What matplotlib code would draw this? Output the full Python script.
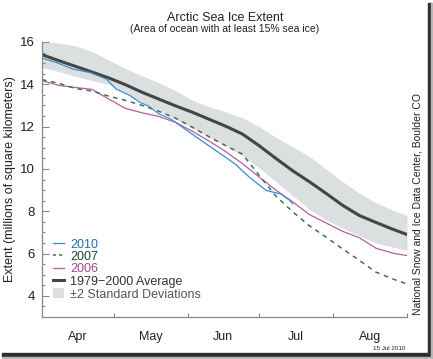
import matplotlib.pyplot as plt
from matplotlib.patches import Rectangle, Patch
from matplotlib.lines import Line2D

plt.rcParams['font.family'] = ['Liberation Sans', 'DejaVu Sans']

# days since 1 April
days = [0, 7, 14, 21, 28, 35, 42, 49, 56, 63, 70, 77, 84, 91, 98, 105, 112, 119, 126, 133, 140, 147, 153]
avg = [15.40, 15.12, 14.85, 14.58, 14.30, 13.98, 13.62, 13.30, 12.98, 12.68, 12.35, 12.02,
       11.65, 11.10, 10.50, 9.92, 9.40, 8.85, 8.28, 7.80, 7.47, 7.15, 6.90]
band_hi = [16.0, 15.95, 15.82, 15.55, 15.15, 14.75, 14.40, 14.08, 13.70, 13.25, 12.95, 12.70,
           12.42, 12.00, 11.50, 11.05, 10.60, 10.00, 9.40, 8.85, 8.40, 8.05, 7.80]
band_lo = [14.80, 14.60, 14.38, 14.18, 13.98, 13.60, 13.15, 12.75, 12.35, 11.95, 11.50, 11.10,
           10.62, 10.05, 9.40, 8.75, 8.10, 7.60, 7.20, 6.85, 6.50, 6.30, 6.15]
ext_2006 = [14.17, 13.95, 13.85, 13.76, 13.30, 12.86, 12.65, 12.48, 12.20, 11.78, 11.32, 10.82,
            10.25, 9.62, 9.00, 8.45, 7.85, 7.45, 7.05, 6.75, 6.25, 6.02, 5.90]
ext_2007 = [14.22, 14.05, 13.80, 13.68, 13.44, 13.24, 13.00, 12.72, 12.40, 11.97, 11.52, 11.10,
            10.70, 9.70, 8.72, 7.98, 7.32, 6.78, 6.22, 5.68, 5.12, 4.80, 4.56]
days_2010 = [0, 6, 13, 20, 27, 31, 37, 41, 45, 49, 54, 59, 66, 73, 81, 87, 94, 100, 104, 105]
ext_2010 = [15.24, 15.03, 14.72, 14.56, 14.25, 13.78, 13.46, 13.15, 12.95, 12.60, 12.36, 11.96,
            11.40, 10.86, 10.23, 9.60, 8.98, 8.82, 8.50, 8.35]

month_starts = [0, 30, 61, 91, 122, 153]
month_names = ['Apr', 'May', 'Jun', 'Jul', 'Aug']

W, H = 433, 359
fig = plt.figure(figsize=(W / 100, H / 100), dpi=100)
ax = fig.add_axes([42 / W, 1 - 317 / H, 365 / W, 275 / H])

c2010, c2007, c2006, cavg, cband = '#3a8fd0', '#446e52', '#b35ea4', '#454545', '#dcdfdf'

ax.fill_between(days, band_lo, band_hi, color=cband, lw=0)
ax.plot(days, avg, color=cavg, lw=2.2)
ax.plot(days, ext_2006, color=c2006, lw=0.9)
ax.plot(days, ext_2007, color=c2007, lw=1.1, dashes=(3, 3))
ax.plot(days_2010, ext_2010, color=c2010, lw=0.9)

ax.set_xlim(0, 153)
ax.set_ylim(3, 16)
for s in ['top', 'right']:
    ax.spines[s].set_visible(False)
for s in ['left', 'bottom']:
    ax.spines[s].set_color('#888888')
    ax.spines[s].set_linewidth(0.9)

ax.set_yticks(range(4, 17, 2))
ax.set_yticks([v / 2 for v in range(7, 32)], minor=True)
ax.tick_params(axis='y', which='major', direction='in', length=5, width=0.8, color='#888888',
               labelsize=9.5, pad=5, labelcolor='#222222')
ax.tick_params(axis='y', which='minor', direction='in', length=2.5, width=0.8, color='#888888')

ax.set_xticks(month_starts)
ax.set_xticklabels([])
mids = [(a + b) / 2 for a, b in zip(month_starts[:-1], month_starts[1:])]
ax.set_xticks(mids, minor=True)
ax.set_xticklabels(month_names, minor=True)
ax.tick_params(axis='x', which='major', direction='in', length=3, width=0.8, color='#888888')
ax.tick_params(axis='x', which='minor', length=0, labelsize=9, pad=10, labelcolor='#222222')

ax.set_ylabel('Extent (millions of square kilometers)', fontsize=9, color='#222222')
ax.yaxis.set_label_coords(-26 / 365, 0.5)

fig.text(225 / W, 1 - 18 / H, 'Arctic Sea Ice Extent', ha='center', va='center', fontsize=9, color='#222222')
fig.text(225 / W, 1 - 29 / H, '(Area of ocean with at least 15% sea ice)', ha='center', va='center',
         fontsize=7.5, color='#222222')
fig.text(417 / W, 1 - 204 / H, 'National Snow and Ice Data Center, Boulder CO', rotation=90,
         ha='center', va='center', fontsize=7.5, color='#222222')
fig.text(405 / W, 1 - 349 / H, '15 Jul 2010', ha='right', va='center', fontsize=4.5, color='#222222')

handles = [Line2D([], [], color=c2010, lw=0.9),
           Line2D([], [], color=c2007, lw=1.1, dashes=(2, 2)),
           Line2D([], [], color=c2006, lw=0.9),
           Line2D([], [], color=cavg, lw=2.2),
           Patch(facecolor=cband, edgecolor='none')]
labels = ['2010', '2007', '2006', '1979\u22122000 Average', '\u00b12 Standard Deviations']
leg = ax.legend(handles, labels, loc='lower left', bbox_to_anchor=(0.03, 0.06), frameon=False,
                fontsize=9, handlelength=0.85, handletextpad=0.5, labelspacing=0.0,
                borderpad=0, borderaxespad=0, handleheight=0.9,
                labelcolor=['#1f6fb5', '#1d4d2b', '#a3468f', '#333333', '#555555'])

# card shadow
fig.patches.append(Rectangle((428 / W, 1 - 357 / H), 3 / W, 354 / H, transform=fig.transFigure,
                             color='#2f2f2f', zorder=0))
fig.patches.append(Rectangle((2 / W, 1 - 357 / H), 429 / W, 4 / H, transform=fig.transFigure,
                             color='#2f2f2f', zorder=0))
fig.patches.append(Rectangle((431 / W, 1 - 358 / H), 2 / W, 355 / H, transform=fig.transFigure,
                             color='#b8b8b8', zorder=0))
fig.patches.append(Rectangle((2 / W, 1 - 359 / H), 431 / W, 2 / H, transform=fig.transFigure,
                             color='#b8b8b8', zorder=0))

fig.savefig('out.png', dpi=100)
